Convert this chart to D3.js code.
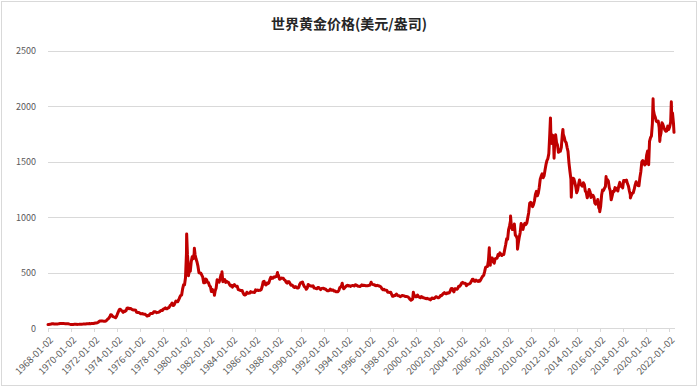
<!DOCTYPE html>
<html>
<head>
<meta charset="utf-8">
<script src="https://cdn.jsdelivr.net/npm/d3@7"></script>
<style>
  html, body { margin: 0; padding: 0; background: #ffffff; }
  svg { display: block; }
</style>
</head>
<body>
<svg id="chart" width="700" height="390"></svg>
<script>
// ---------------- DATA ----------------
const chartTitle = "世界黄金价格(美元/盎司)";
const startYear = 1968;

// Monthly gold price (USD/oz), one row per year, Jan..Dec (2022: Jan..May)
const monthlyPrice = [
  35.2, 35.2, 37.5, 38.0, 41.0, 41.1, 39.5, 39.2, 39.6, 39.4, 39.8, 41.1,
  42.4, 42.5, 43.4, 43.4, 43.5, 41.9, 41.6, 41.2, 40.8, 40.3, 37.4, 35.2,
  34.9, 35.0, 35.1, 35.6, 35.9, 35.5, 35.3, 35.4, 36.2, 37.5, 37.4, 37.4,
  37.9, 38.7, 38.9, 39.0, 40.5, 40.1, 41.0, 42.7, 42.0, 42.5, 42.9, 43.5,
  45.8, 48.3, 48.3, 49.0, 54.6, 62.1, 65.7, 67.0, 65.5, 64.9, 62.9, 63.9,
  65.1, 74.2, 84.4, 90.5, 102.0, 122.5, 120.2, 106.8, 103.0, 100.1, 94.8, 106.7,
  129.2, 150.2, 168.4, 172.2, 163.3, 154.1, 143.0, 154.6, 151.8, 158.8, 181.7, 183.8,
  176.3, 179.6, 178.2, 169.9, 167.2, 164.2, 165.2, 163.1, 144.0, 142.8, 142.8, 139.3,
  131.6, 131.1, 132.7, 128.4, 127.0, 125.7, 117.7, 109.9, 114.5, 116.0, 130.6, 133.9,
  132.3, 136.3, 148.3, 149.2, 146.5, 140.9, 143.2, 144.8, 149.6, 158.6, 162.1, 160.5,
  173.2, 178.2, 183.7, 175.2, 176.3, 183.7, 188.7, 206.0, 212.4, 227.4, 206.1, 207.8,
  227.3, 245.7, 242.1, 239.2, 257.6, 279.1, 294.7, 300.8, 355.1, 391.7, 392.5, 455.1,
  675.3, 665.3, 553.6, 517.4, 513.8, 600.7, 644.3, 626.5, 673.6, 662.1, 623.5, 596.7,
  557.4, 500.5, 498.8, 495.8, 479.7, 460.8, 409.3, 410.1, 443.6, 437.8, 413.4, 410.1,
  383.8, 374.0, 330.5, 350.3, 333.5, 314.0, 339.1, 364.0, 436.8, 422.4, 415.0, 444.3,
  481.3, 491.3, 419.8, 432.8, 438.4, 412.9, 422.6, 416.3, 411.8, 393.6, 381.5, 388.0,
  370.9, 386.4, 394.3, 381.2, 377.4, 377.8, 347.9, 348.0, 341.1, 340.2, 341.2, 319.7,
  302.8, 299.1, 304.0, 325.0, 316.6, 316.6, 317.0, 329.9, 323.6, 325.6, 325.5, 322.0,
  345.7, 338.9, 345.7, 340.4, 342.5, 342.8, 348.5, 376.7, 418.2, 423.4, 395.7, 390.0,
  408.3, 401.3, 408.8, 438.3, 460.2, 449.6, 450.4, 461.6, 460.8, 465.7, 467.1, 486.3,
  477.8, 442.1, 444.0, 452.1, 451.3, 451.5, 437.5, 431.6, 413.6, 406.9, 420.3, 418.7,
  404.0, 387.8, 390.2, 384.2, 371.1, 367.6, 375.0, 365.4, 362.6, 366.9, 393.7, 409.3,
  410.1, 416.8, 393.1, 374.3, 369.0, 352.3, 362.5, 394.9, 388.9, 380.6, 381.8, 378.2,
  383.6, 363.8, 363.3, 358.4, 356.8, 366.7, 367.7, 356.5, 348.7, 358.7, 359.7, 361.1,
  354.4, 353.9, 344.6, 338.5, 337.2, 340.8, 352.7, 342.9, 345.4, 344.4, 335.0, 334.8,
  329.0, 329.3, 330.1, 342.2, 367.2, 371.9, 392.0, 378.7, 355.5, 364.2, 373.8, 383.3,
  386.9, 381.9, 384.1, 377.3, 381.4, 385.6, 385.5, 380.4, 391.6, 389.8, 384.4, 379.3,
  378.6, 376.5, 382.1, 391.0, 385.4, 387.6, 386.2, 383.7, 383.1, 383.0, 386.0, 387.0,
  399.5, 404.8, 396.2, 392.9, 391.9, 385.3, 383.5, 387.5, 383.1, 381.1, 377.9, 369.3,
  354.1, 346.6, 351.8, 344.5, 343.8, 340.8, 324.0, 323.8, 323.2, 324.9, 306.0, 288.7,
  289.1, 297.5, 296.0, 308.3, 299.4, 292.4, 292.9, 284.1, 288.4, 296.0, 294.1, 291.6,
  287.3, 287.2, 285.9, 282.6, 276.4, 261.3, 256.1, 256.7, 264.7, 310.6, 293.2, 283.1,
  284.6, 299.9, 286.4, 280.0, 275.3, 285.7, 281.6, 274.5, 273.7, 270.1, 266.0, 271.5,
  265.5, 261.9, 263.0, 260.5, 272.4, 270.2, 267.5, 272.4, 283.4, 283.1, 276.2, 275.9,
  281.7, 295.5, 294.0, 302.7, 314.5, 321.2, 313.3, 310.3, 319.2, 316.6, 319.2, 333.4,
  356.9, 359.0, 340.6, 328.2, 355.7, 356.4, 351.0, 359.8, 378.9, 378.9, 389.9, 407.6,
  413.8, 405.3, 406.7, 403.3, 383.8, 392.4, 398.1, 400.5, 405.3, 420.5, 439.4, 442.1,
  424.0, 423.4, 434.2, 428.9, 421.9, 430.7, 424.5, 437.9, 456.0, 469.9, 476.7, 509.8,
  549.9, 555.0, 557.1, 610.6, 675.4, 596.2, 633.7, 632.6, 598.2, 585.8, 627.8, 629.8,
  631.2, 664.8, 654.9, 679.4, 666.9, 655.5, 665.3, 665.4, 712.7, 754.6, 806.3, 803.2,
  889.6, 922.3, 968.4, 909.7, 888.7, 889.5, 939.8, 839.0, 829.9, 806.6, 760.9, 816.1,
  858.7, 943.2, 924.3, 890.2, 928.6, 945.7, 934.2, 949.4, 996.6, 1043.2, 1127.0, 1134.7,
  1117.9, 1095.4, 1113.3, 1148.7, 1205.4, 1232.9, 1192.9, 1215.8, 1270.9, 1342.0, 1369.9, 1390.6,
  1356.4, 1372.7, 1424.0, 1473.8, 1510.4, 1528.7, 1572.8, 1755.8, 1771.9, 1665.2, 1738.9, 1652.2,
  1656.1, 1742.6, 1673.8, 1650.1, 1585.5, 1596.7, 1594.3, 1630.3, 1744.8, 1746.6, 1721.6, 1684.8,
  1671.9, 1627.6, 1593.1, 1487.9, 1414.0, 1343.4, 1285.5, 1351.7, 1348.6, 1316.6, 1275.9, 1221.5,
  1244.3, 1300.0, 1336.1, 1298.5, 1288.7, 1279.1, 1310.6, 1295.1, 1236.6, 1222.5, 1176.3, 1200.6,
  1250.8, 1227.1, 1178.6, 1198.9, 1198.6, 1181.5, 1128.3, 1117.9, 1124.8, 1159.3, 1086.4, 1068.3,
  1097.9, 1199.5, 1245.1, 1242.3, 1260.9, 1276.4, 1336.7, 1340.2, 1326.0, 1266.6, 1238.4, 1157.4,
  1192.1, 1234.2, 1231.4, 1266.9, 1246.0, 1260.3, 1236.8, 1283.0, 1314.1, 1279.5, 1281.9, 1264.5,
  1331.3, 1330.7, 1324.7, 1334.8, 1303.5, 1281.6, 1237.7, 1201.7, 1198.4, 1215.4, 1220.7, 1250.4,
  1291.8, 1320.1, 1300.9, 1285.9, 1283.7, 1359.0, 1412.9, 1500.4, 1510.6, 1494.8, 1470.0, 1479.1,
  1560.7, 1597.1, 1591.9, 1683.2, 1715.9, 1732.2, 1846.5, 1968.6, 1921.9, 1900.3, 1866.3, 1858.4,
  1867.0, 1808.2, 1718.2, 1760.0, 1850.3, 1834.6, 1807.8, 1785.3, 1775.1, 1776.2, 1820.8, 1790.3,
  1816.0, 1856.3, 1947.8, 1936.7, 1848.5
];

// Daily extremes / end points
const extraDates = [
  "1968-01-02", "1980-01-21", "1980-03-18", "1980-09-22", "1982-06-21", "1983-02-15",
  "1987-12-14", "1993-07-30", "1996-02-02", "1999-07-20", "1999-10-05", "2001-04-02",
  "2006-05-12", "2006-06-14", "2008-03-17", "2008-10-24", "2011-09-05", "2011-12-29",
  "2012-10-04", "2013-06-27", "2015-12-17", "2016-07-06", "2018-08-16", "2020-03-19",
  "2020-08-06", "2021-03-08", "2022-03-08", "2022-06-01"
];
const extraValues = [
  35.2, 850, 474, 720, 297, 509,
  502, 406, 415, 252, 325, 256,
  725, 567, 1011, 713, 1895, 1531,
  1791, 1180, 1050, 1366, 1174, 1474,
  2067, 1683, 2040, 1765
];

const yTickValues = [0, 500, 1000, 1500, 2000, 2500];
const xTickLabels = [
  "1968-01-02", "1970-01-02", "1972-01-02", "1974-01-02", "1976-01-02", "1978-01-02",
  "1980-01-02", "1982-01-02", "1984-01-02", "1986-01-02", "1988-01-02", "1990-01-02",
  "1992-01-02", "1994-01-02", "1996-01-02", "1998-01-02", "2000-01-02", "2002-01-02",
  "2004-01-02", "2006-01-02", "2008-01-02", "2010-01-02", "2012-01-02", "2014-01-02",
  "2016-01-02", "2018-01-02", "2020-01-02", "2022-01-02"
];
const xDomainStart = "1968-01-02";
const xDomainEnd = "2022-06-01";

// ---------------- BUILD ----------------
const parse = d3.timeParse("%Y-%m-%d");
const series = monthlyPrice.map((v, i) => ({ date: new Date(startYear, i, 15), value: v }))
  .concat(extraDates.map((d, i) => ({ date: parse(d), value: extraValues[i] })))
  .sort((a, b) => a.date - b.date);

const svg = d3.select("#chart");
const plot = { left: 48, right: 674, top: 50.7, bottom: 328.3 };

const font = "'Noto Sans CJK SC', 'Microsoft YaHei', sans-serif";

// outer border
svg.append("rect")
  .attr("x", 1.5).attr("y", 1.5).attr("width", 695).attr("height", 384)
  .attr("fill", "#ffffff").attr("stroke", "#d9d9d9").attr("stroke-width", 1);

const x = d3.scaleTime()
  .domain([parse(xDomainStart), parse(xDomainEnd)])
  .range([plot.left, plot.right]);
const y = d3.scaleLinear()
  .domain([0, 2500])
  .range([plot.bottom, plot.top]);

// y axis with gridlines
const yAxis = svg.append("g")
  .attr("transform", `translate(${plot.left},0)`)
  .call(d3.axisLeft(y).tickValues(yTickValues).tickSize(-(plot.right - plot.left)).tickPadding(12).tickFormat(d3.format("d")));
yAxis.select(".domain").remove();
yAxis.selectAll(".tick line").attr("stroke", "#d9d9d9").attr("stroke-width", 1)
  .attr("shape-rendering", "crispEdges");
yAxis.selectAll(".tick text")
  .attr("fill", "#595959").style("font-family", font).style("font-size", "9px");

// x axis
const xTickDates = xTickLabels.map(parse);
const xAxis = svg.append("g")
  .attr("transform", `translate(0,${plot.bottom})`)
  .call(d3.axisBottom(x).tickValues(xTickDates).tickSize(4).tickSizeOuter(0)
    .tickFormat((d, i) => xTickLabels[i]));
xAxis.select(".domain").attr("stroke", "#d9d9d9").attr("shape-rendering", "crispEdges");
xAxis.selectAll(".tick line").attr("stroke", "#d9d9d9").attr("shape-rendering", "crispEdges");
xAxis.selectAll(".tick text")
  .attr("fill", "#595959").style("font-family", font).style("font-size", "9.5px")
  .attr("text-anchor", "end")
  .attr("x", 0).attr("y", 0).attr("dy", "0.35em")
  .attr("transform", "translate(3,10) rotate(-45)");

// line
const line = d3.line()
  .x(d => x(d.date))
  .y(d => y(d.value));
svg.append("path")
  .datum(series)
  .attr("fill", "none")
  .attr("stroke", "#c00000")
  .attr("stroke-width", 3)
  .attr("stroke-linejoin", "round")
  .attr("stroke-linecap", "round")
  .attr("d", line);

// title
svg.append("text")
  .attr("x", 349).attr("y", 29)
  .attr("text-anchor", "middle")
  .style("font-family", font)
  .style("font-size", "14px")
  .style("font-weight", "bold")
  .attr("fill", "#262626")
  .text(chartTitle);
</script>
</body>
</html>
